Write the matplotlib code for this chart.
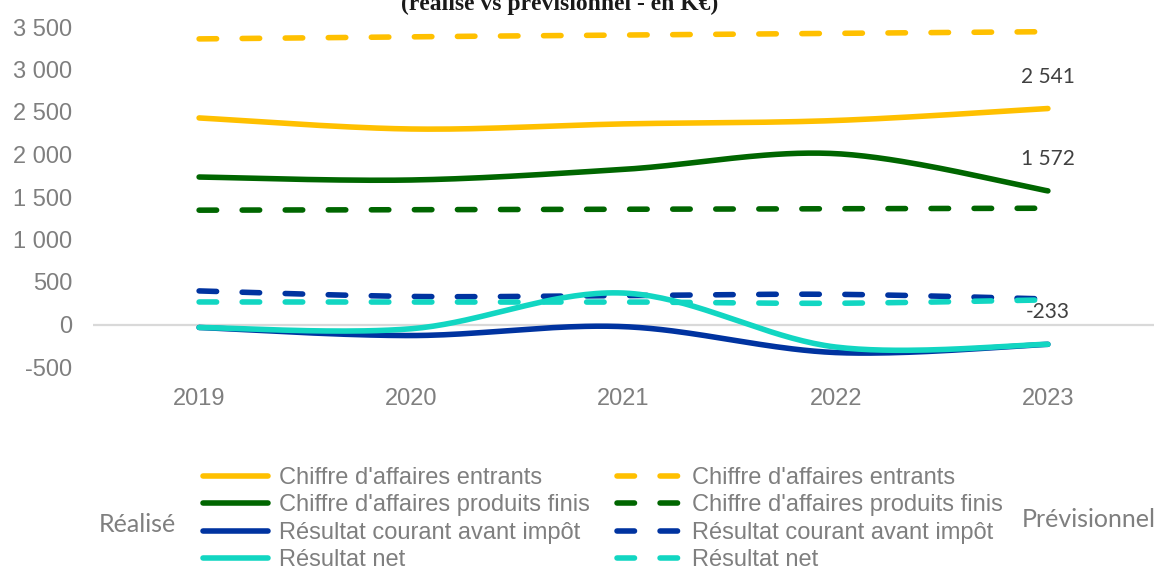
import matplotlib.pyplot as plt
import numpy as np
from matplotlib.lines import Line2D
from matplotlib.ticker import FuncFormatter

# Years and series (K€)
years = ['2019', '2020', '2021', '2022', '2023']

ca_entrants_real = [2430, 2300, 2360, 2400, 2541]
ca_entrants_prev = [3360, 3385, 3405, 3425, 3445]
ca_pf_real = [1735, 1700, 1825, 2010, 1572]
ca_pf_prev = [1345, 1350, 1355, 1362, 1368]
rcai_real = [-35, -130, -25, -330, -233]
rcai_prev = [395, 330, 340, 355, 300]
rn_real = [-35, -50, 370, -265, -233]
rn_prev = [265, 265, 265, 250, 290]

labels = ["Chiffre d'affaires entrants", "Chiffre d'affaires produits finis",
          "Résultat courant avant impôt", "Résultat net"]
colors = ['#ffc000', '#006600', '#0033a0', '#12d6c2']

TICK_GREY = '#7f7f7f'
LW = 4.0
DASHES = (3.15, 4.6)


def smooth(y, n=40):
    """Bezier smoothing of a category line (same spirit as office charts)."""
    x = np.arange(len(y), dtype=float)
    y = np.asarray(y, dtype=float)
    pts = np.column_stack([x, y])
    ext = np.vstack([pts[0], pts, pts[-1]])
    t = np.linspace(0, 1, n)[:, None]
    out = []
    for i in range(len(pts) - 1):
        p0, p1, p2, p3 = ext[i], ext[i + 1], ext[i + 2], ext[i + 3]
        c1 = p1 + (p2 - p0) / 6
        c2 = p2 - (p3 - p1) / 6
        seg = ((1 - t) ** 3) * p1 + 3 * ((1 - t) ** 2) * t * c1 \
            + 3 * (1 - t) * t ** 2 * c2 + t ** 3 * p2
        out.append(seg if i == 0 else seg[1:])
    out = np.vstack(out)
    return out[:, 0], out[:, 1]


fig = plt.figure(figsize=(11.54, 5.66), dpi=100)
ax = fig.add_axes([93 / 1154, 1 - 367 / 566, 1 - 93 / 1154, 340 / 566])

ax.axhline(0, color='#d9d9d9', lw=1.6, zorder=1)

real = [ca_entrants_real, ca_pf_real, rcai_real, rn_real]
prev = [ca_entrants_prev, ca_pf_prev, rcai_prev, rn_prev]

real_handles, prev_handles = [], []
for lab, col, r, p in zip(labels, colors, real, prev):
    xs, ys = smooth(r)
    ax.plot(xs, ys, color=col, lw=LW, solid_capstyle='round', zorder=3)
    xs, ys = smooth(p)
    ax.plot(xs, ys, color=col, lw=LW, dashes=DASHES,
            dash_capstyle='round', zorder=3)
    real_handles.append(Line2D([], [], color=col, lw=LW, solid_capstyle='round'))
    prev_handles.append(Line2D([], [], color=col, lw=LW, dashes=DASHES,
                               dash_capstyle='round'))

# value labels on the last year
for series in (ca_entrants_real, ca_pf_real, rn_real):
    v = series[-1]
    ax.annotate(f'{v:,}'.replace(',', ' '), (4, v), xytext=(0, 23),
                textcoords='offset points', ha='center', va='center',
                fontsize=15, family='Lato', color='#404040')

ax.set_xlim(-0.5, 4.5)
ax.set_ylim(-500, 3500)
ax.set_xticks(range(len(years)))
ax.set_xticklabels(years)
ax.set_yticks(np.arange(-500, 3501, 500))
ax.yaxis.set_major_formatter(FuncFormatter(lambda v, _: f'{int(v):,}'.replace(',', ' ')))
ax.tick_params(axis='both', length=0, labelsize=17, labelcolor=TICK_GREY)
ax.tick_params(axis='y', pad=15)
ax.tick_params(axis='x', pad=15)
for lbl in ax.get_xticklabels() + ax.get_yticklabels():
    lbl.set_family('Liberation Sans')
for s in ax.spines.values():
    s.set_visible(False)

leg = fig.legend(real_handles + prev_handles, labels + labels, ncol=2,
                 loc='upper left', bbox_to_anchor=(203 / 1154, 1 - 467 / 566),
                 frameon=False, borderpad=0, borderaxespad=0,
                 handlelength=2.75, handletextpad=0.45, columnspacing=1.15,
                 labelspacing=0.23, prop={'family': 'Liberation Sans', 'size': 17})
for t in leg.get_texts():
    t.set_color(TICK_GREY)

fig.text(99 / 1154, 1 - 532 / 566, 'Réalisé', ha='left', va='baseline',
         fontsize=18, family='Lato', color=TICK_GREY)
fig.text(1022 / 1154, 1 - 527 / 566, 'Prévisionnel', ha='left', va='baseline',
         fontsize=18, family='Lato', color=TICK_GREY)

fig.text(560 / 1154, 1 - 10 / 566, '(réalisé vs prévisionnel - en K€)',
         ha='center', va='baseline', fontsize=17, family='Liberation Serif',
         fontweight='bold', color='#1a1a1a')

fig.savefig('out.png', dpi=100)
